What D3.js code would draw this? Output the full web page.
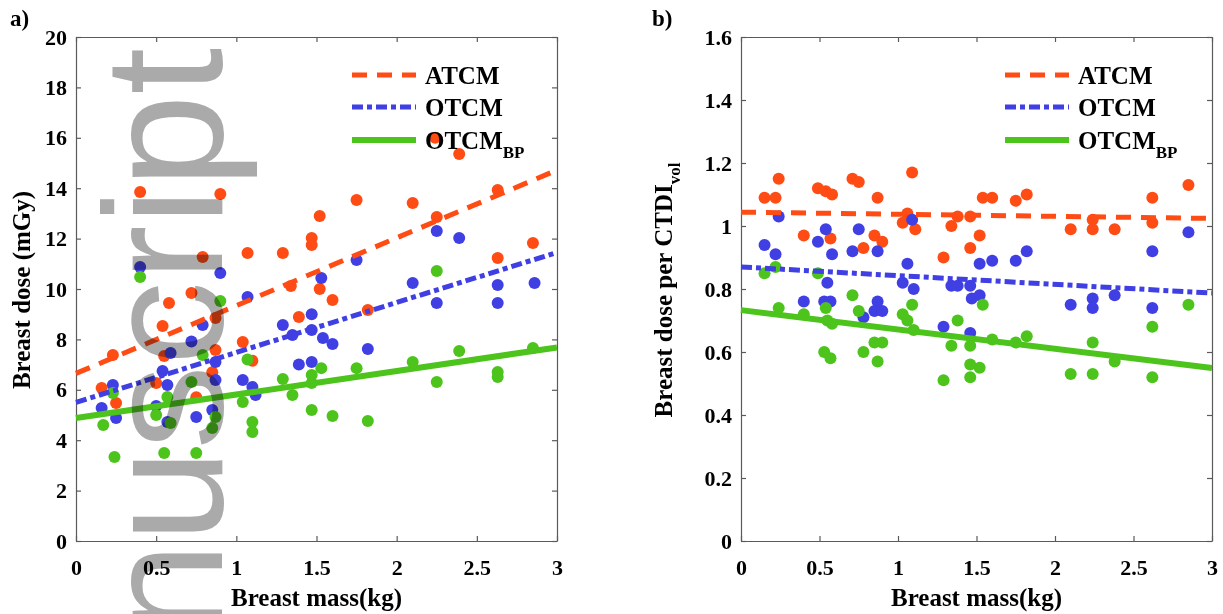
<!DOCTYPE html>
<html><head><meta charset="utf-8">
<script src="https://cdn.jsdelivr.net/npm/d3@7"></script>
<style>
html,body{margin:0;padding:0;background:#fff;}
svg text{font-family:"Liberation Serif","Times New Roman",serif;font-weight:bold;fill:#000;}
</style></head><body>
<svg id="fig" width="1223" height="614"></svg>
<script>
// Breast dose (mGy) vs breast mass (kg): [mass, dose]
const doseATCM = [[0.16,6.07],[0.23,7.38],[0.25,5.48],[0.40,13.85],[0.50,6.27],[0.54,8.53],[0.55,7.34],[0.58,9.44],[0.72,9.84],[0.75,5.70],[0.79,11.27],[0.85,6.70],[0.87,8.85],[0.87,7.58],[0.90,13.77],[1.04,7.90],[1.07,11.43],[1.10,7.15],[1.29,11.43],[1.34,10.12],[1.39,8.89],[1.47,12.02],[1.47,11.75],[1.52,12.90],[1.52,10.00],[1.60,9.56],[1.75,13.53],[1.82,9.17],[2.10,13.41],[2.24,16.00],[2.25,12.86],[2.39,15.36],[2.63,13.93],[2.63,11.23],[2.85,11.83]];
const doseOTCM = [[0.16,5.28],[0.23,6.19],[0.25,4.88],[0.40,10.87],[0.50,5.36],[0.54,6.75],[0.57,4.72],[0.57,6.19],[0.59,7.46],[0.72,7.92],[0.75,4.92],[0.79,8.57],[0.85,5.20],[0.87,7.10],[0.87,6.39],[0.90,10.63],[1.04,6.39],[1.07,9.68],[1.10,6.11],[1.12,5.79],[1.29,8.57],[1.35,8.17],[1.39,7.00],[1.47,9.00],[1.47,8.37],[1.47,7.10],[1.53,10.44],[1.54,8.06],[1.60,7.82],[1.75,11.15],[1.82,7.62],[2.10,10.24],[2.25,12.30],[2.25,9.44],[2.39,12.02],[2.63,10.16],[2.63,9.44],[2.86,10.24]];
const doseBP = [[0.17,4.60],[0.23,5.87],[0.24,3.33],[0.40,10.48],[0.50,5.00],[0.55,3.49],[0.57,5.71],[0.59,4.68],[0.72,6.31],[0.75,3.49],[0.79,7.38],[0.85,4.48],[0.87,4.92],[0.90,9.52],[1.04,5.52],[1.07,7.20],[1.10,4.33],[1.10,4.72],[1.29,6.43],[1.35,5.79],[1.47,6.59],[1.47,6.27],[1.47,5.20],[1.53,6.86],[1.60,4.96],[1.75,6.86],[1.82,4.76],[2.10,7.10],[2.25,10.71],[2.25,6.31],[2.39,7.54],[2.63,6.71],[2.63,6.51],[2.85,7.66]];

// Breast dose per CTDIvol vs breast mass (kg): [mass, ratio]
const ratioATCM = [[0.15,1.09],[0.22,1.09],[0.24,1.15],[0.40,0.97],[0.49,1.12],[0.54,1.11],[0.58,1.10],[0.57,0.96],[0.71,1.15],[0.75,1.14],[0.87,1.09],[0.78,0.93],[0.85,0.97],[0.90,0.95],[1.09,1.17],[1.03,1.01],[1.06,1.04],[1.11,0.99],[1.29,0.90],[1.34,1.00],[1.38,1.03],[1.46,1.03],[1.46,0.93],[1.52,0.97],[1.54,1.09],[1.60,1.09],[1.75,1.08],[1.82,1.10],[2.10,0.99],[2.24,1.02],[2.24,0.99],[2.38,0.99],[2.62,1.09],[2.62,1.01],[2.85,1.13]];
const ratioOTCM = [[0.15,0.94],[0.22,0.91],[0.24,1.03],[0.40,0.76],[0.49,0.95],[0.54,0.99],[0.58,0.91],[0.55,0.82],[0.53,0.76],[0.57,0.76],[0.75,0.99],[0.71,0.92],[0.87,0.92],[0.78,0.71],[0.87,0.76],[0.85,0.73],[0.90,0.73],[1.09,1.02],[1.06,0.88],[1.03,0.82],[1.10,0.80],[1.29,0.68],[1.34,0.81],[1.38,0.81],[1.46,0.81],[1.47,0.77],[1.46,0.66],[1.52,0.88],[1.52,0.78],[1.60,0.89],[1.75,0.89],[1.82,0.92],[2.10,0.75],[2.24,0.77],[2.24,0.74],[2.38,0.78],[2.62,0.92],[2.62,0.74],[2.85,0.98]];
const ratioBP = [[0.15,0.85],[0.22,0.87],[0.24,0.74],[0.40,0.72],[0.49,0.85],[0.54,0.74],[0.55,0.70],[0.58,0.69],[0.53,0.60],[0.57,0.58],[0.71,0.78],[0.75,0.73],[0.78,0.60],[0.85,0.63],[0.90,0.63],[0.87,0.57],[1.09,0.75],[1.03,0.72],[1.06,0.70],[1.10,0.67],[1.29,0.51],[1.34,0.62],[1.38,0.70],[1.46,0.62],[1.46,0.56],[1.46,0.52],[1.52,0.55],[1.54,0.75],[1.60,0.64],[1.75,0.63],[1.82,0.65],[2.10,0.53],[2.24,0.63],[2.24,0.53],[2.38,0.57],[2.62,0.68],[2.62,0.52],[2.85,0.75]];

// Linear fits: values at mass = 0 and mass = 3
const fitDoseATCM = [6.65, 14.72];
const fitDoseOTCM = [5.50, 11.45];
const fitDoseBP = [4.88, 7.68];
const fitRatioATCM = [1.044, 1.024];
const fitRatioOTCM = [0.870, 0.787];
const fitRatioBP = [0.733, 0.549];

const seriesNames = ["ATCM", "OTCM", "OTCM"];
const seriesSubs = ["", "", "BP"];
const massTicks = [0, 0.5, 1, 1.5, 2, 2.5, 3];
const doseTicks = [0, 2, 4, 6, 8, 10, 12, 14, 16, 18, 20];
const ratioTicks = [0, 0.2, 0.4, 0.6, 0.8, 1, 1.2, 1.4, 1.6];

const colors = ["#ff4b14", "#3f3fe4", "#4cc41c"];
const dashes = ["15,10", "11,4,5,4", null];
const widths = [5, 5, 6];

const svg = d3.select("#fig");

function panel(cfg) {
  const x = d3.scaleLinear().domain([0, 3]).range([cfg.left, cfg.right]);
  const y = d3.scaleLinear().domain(cfg.yDomain).range([541, 37]);
  const g = svg.append("g");
  const fmt = v => String(+v.toFixed(1));

  const styleAxis = sel => {
    sel.selectAll("path.domain").attr("stroke", "#5a5a5a").attr("stroke-width", 1.2);
    sel.selectAll(".tick line").attr("stroke", "#5a5a5a").attr("stroke-width", 1.2);
    sel.selectAll(".tick text").style("font-size", "22px").attr("fill", "#000");
  };

  g.append("g").attr("transform", `translate(0,${y(cfg.yDomain[0])})`)
    .call(d3.axisBottom(x).tickValues(massTicks).tickFormat(fmt).tickSizeInner(-5).tickSizeOuter(0).tickPadding(18))
    .call(styleAxis);
  g.append("g").attr("transform", `translate(0,${y(cfg.yDomain[1])})`)
    .call(d3.axisTop(x).tickValues(massTicks).tickFormat("").tickSizeInner(-5).tickSizeOuter(0))
    .call(styleAxis);
  g.append("g").attr("transform", `translate(${cfg.left},0)`)
    .call(d3.axisLeft(y).tickValues(cfg.yTicks).tickFormat(fmt).tickSizeInner(-5).tickSizeOuter(0).tickPadding(9))
    .call(styleAxis);
  g.append("g").attr("transform", `translate(${cfg.right},0)`)
    .call(d3.axisRight(y).tickValues(cfg.yTicks).tickFormat("").tickSizeInner(-5).tickSizeOuter(0))
    .call(styleAxis);

  // scatter points
  cfg.points.forEach((pts, i) => {
    g.append("g").selectAll("circle").data(pts).join("circle")
      .attr("cx", d => x(d[0])).attr("cy", d => y(d[1])).attr("r", 6)
      .attr("fill", colors[i]);
  });

  // fitted lines
  cfg.fits.forEach((f, i) => {
    g.append("line")
      .attr("x1", x(0)).attr("y1", y(f[0])).attr("x2", x(3)).attr("y2", y(f[1]))
      .attr("stroke", colors[i]).attr("stroke-width", widths[i])
      .attr("stroke-dasharray", dashes[i]);
  });

  // legend
  const lx = cfg.legendX, rows = [75, 107, 140];
  seriesNames.forEach((name, i) => {
    g.append("line").attr("x1", lx).attr("x2", lx + 64).attr("y1", rows[i]).attr("y2", rows[i])
      .attr("stroke", colors[i]).attr("stroke-width", widths[i]).attr("stroke-dasharray", dashes[i]);
    const t = g.append("text").attr("x", lx + 73).attr("y", rows[i] + 9).style("font-size", "25px").text(name);
    if (seriesSubs[i]) t.append("tspan").attr("dy", 9).style("font-size", "17px").text(seriesSubs[i]);
  });

  // axis titles
  g.append("text").attr("x", (cfg.left + cfg.right) / 2).attr("y", 606).attr("text-anchor", "middle")
    .style("font-size", "25px").text("Breast mass(kg)");
  const yl = g.append("text").attr("transform", `translate(${cfg.yLabelX},290) rotate(-90)`)
    .attr("text-anchor", "middle").style("font-size", "25px").text(cfg.yLabel);
  if (cfg.yLabelSub) yl.append("tspan").attr("dy", 8).style("font-size", "17px").text(cfg.yLabelSub);

  g.append("text").attr("x", cfg.tagX).attr("y", 26).style("font-size", "23px").text(cfg.tag);
}

panel({
  left: 76, right: 557, yDomain: [0, 20], yTicks: doseTicks,
  points: [doseATCM, doseOTCM, doseBP],
  fits: [fitDoseATCM, fitDoseOTCM, fitDoseBP],
  legendX: 352, yLabel: "Breast dose (mGy)", yLabelX: 30, tag: "a)", tagX: 10
});
panel({
  left: 741, right: 1212, yDomain: [0, 1.6], yTicks: ratioTicks,
  points: [ratioATCM, ratioOTCM, ratioBP],
  fits: [fitRatioATCM, fitRatioOTCM, fitRatioBP],
  legendX: 1005, yLabel: "Breast dose per CTDI", yLabelSub: "vol", yLabelX: 672, tag: "b)", tagX: 652
});

// stamped overlay text across the left panel
svg.append("text")
  .attr("transform", "translate(222,636) rotate(-90)")
  .style("font-family", "'Liberation Sans', Arial, sans-serif")
  .style("font-weight", "normal")
  .style("font-size", "168px")
  .style("fill", "#aaaaaa")
  .style("mix-blend-mode", "multiply")
  .text("nuscript");
</script>
</body></html>
